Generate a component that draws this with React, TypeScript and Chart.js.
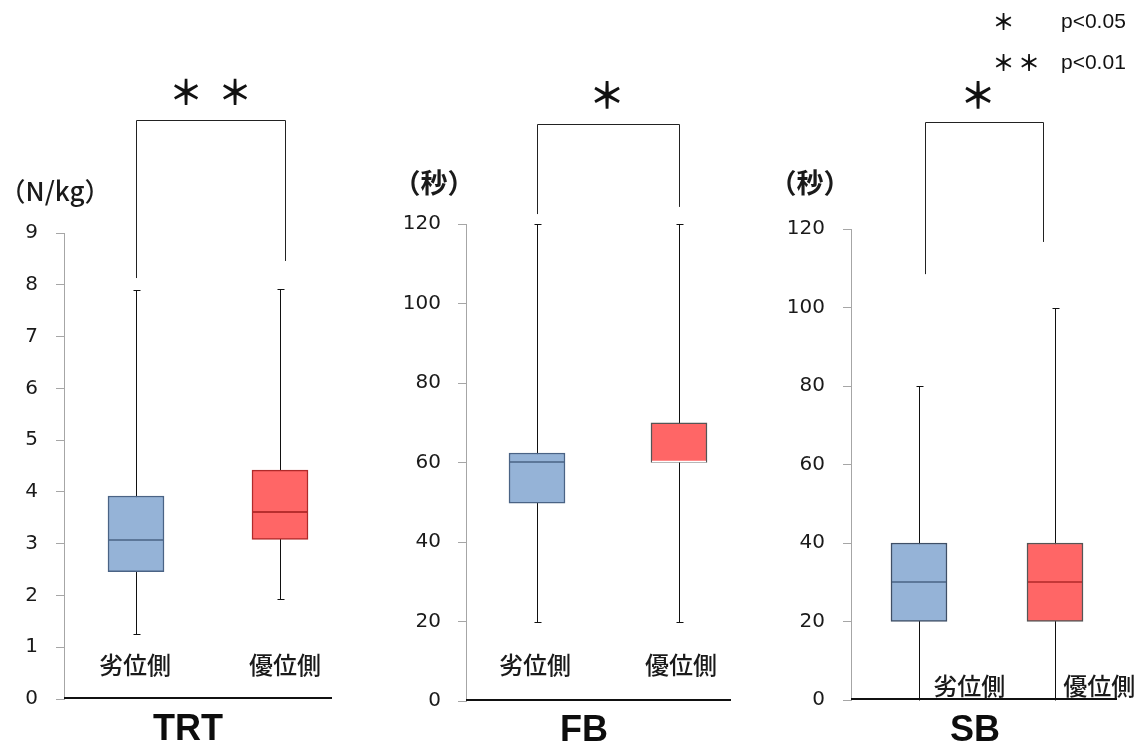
import React, { useEffect, useRef } from 'react';
import { Chart, registerables } from 'chart.js';

Chart.register(...registerables);

// ---------- data ----------
const categories = ['劣位側', '優位側'];

const trtMin = [1.26, 1.93];
const trtQ1 = [2.46, 3.08];
const trtMedian = [3.07, 3.61];
const trtQ3 = [3.92, 4.42];
const trtMax = [7.9, 7.92];

const fbMin = [20, 20];
const fbQ1 = [49.8, 60];
const fbMedian = [60.1, 60];
const fbQ3 = [62.4, 70];
const fbMax = [120, 120];

const sbMin = [0, 0];
const sbQ1 = [20, 20];
const sbMedian = [30, 30];
const sbQ3 = [40, 40];
const sbMax = [80, 100];

const trtTickStep = 1;
const trtAxisMax = 9;
const secTickStep = 20;
const secAxisMax = 120;

const trtStars = ['＊', '＊'];
const fbStars = ['＊'];
const sbStars = ['＊'];
const legendStars = ['＊', '＊＊'];
const legendTexts = ['p<0.05', 'p<0.01'];

// ---------- styles / layout ----------
const CJK = '"Noto Sans CJK JP", "Noto Sans CJK SC", sans-serif';
const BLUE_FILL = '#95b3d7';
const RED_FILL = '#ff6666';

type Panel = {
  key: string;
  title: string;
  unit: string;
  min: number[];
  q1: number[];
  median: number[];
  q3: number[];
  max: number[];
  axisMax: number;
  step: number;
  stars: string[];
  left: number;
  width: number;
  yWidth: number;
  padTop: number;
  padRight: number;
  xHeight: number;
  tickPad: number;
  axisEnd: number;
  titleX: number;
  titleY: number;
  unitX: number;
  unitY: number;
  unitFont: string;
  labelPos: number[];
  labelY: number;
  bracketPos: number[];
  bracketFeet: number[];
  bracketTop: number;
  starXs: number[];
  starY: number;
  starFont: string;
  borderColors: string[];
  medianColors: string[];
  legend?: boolean;
};

const panels: Panel[] = [
  {
    key: 'trt', title: 'TRT', unit: '（N/kg）',
    min: trtMin, q1: trtQ1, median: trtMedian, q3: trtQ3, max: trtMax,
    axisMax: trtAxisMax, step: trtTickStep, stars: trtStars,
    left: 0, width: 380, yWidth: 64, padTop: 233, padRight: 28, xHeight: 48, tickPad: 18,
    axisEnd: 332, titleX: 188, titleY: 740, unitX: 55, unitY: 191, unitFont: `500 26px ${CJK}`,
    labelPos: [-0.007, 1.035], labelY: 665,
    bracketPos: [0, 1.035], bracketFeet: [8.13, 8.46], bracketTop: 11.18,
    starXs: [186, 235], starY: 92, starFont: `bold 34px ${CJK}`,
    borderColors: ['#4a6385', '#b02a2a'], medianColors: ['#4a6385', '#a01c1c'],
  },
  {
    key: 'fb', title: 'FB', unit: '（秒）',
    min: fbMin, q1: fbQ1, median: fbMedian, q3: fbQ3, max: fbMax,
    axisMax: secAxisMax, step: secTickStep, stars: fbStars,
    left: 380, width: 380, yWidth: 86, padTop: 224, padRight: 10, xHeight: 46, tickPad: 17,
    axisEnd: 731, titleX: 584, titleY: 741, unitX: 434, unitY: 183, unitFont: `bold 27px ${CJK}`,
    labelPos: [-0.014, 1.014], labelY: 665,
    bracketPos: [0, 1.0], bracketFeet: [122.5, 124.3], bracketTop: 145.2,
    starXs: [607], starY: 95, starFont: `bold 36px ${CJK}`,
    borderColors: ['#4a6385', '#555555'], medianColors: ['#4a6385', '#ffffff'],
  },
  {
    key: 'sb', title: 'SB', unit: '（秒）',
    min: sbMin, q1: sbQ1, median: sbMedian, q3: sbQ3, max: sbMax,
    axisMax: secAxisMax, step: secTickStep, stars: sbStars,
    left: 760, width: 384, yWidth: 91, padTop: 229, padRight: 21, xHeight: 47, tickPad: 18,
    axisEnd: 1117, titleX: 975, titleY: 741, unitX: 810, unitY: 183, unitFont: `bold 27px ${CJK}`,
    labelPos: [0.37, 1.326], labelY: 686,
    bracketPos: [0.044, 0.91], bracketFeet: [108.5, 116.7], bracketTop: 147.3,
    starXs: [978], starY: 95, starFont: `bold 36px ${CJK}`,
    borderColors: ['#3f4f66', '#555555'], medianColors: ['#4a6385', '#b02a2a'],
    legend: true,
  },
];

function makePlugin(p: Panel) {
  return {
    id: 'boxplot-' + p.key,
    beforeDatasetsDraw(chart: any) {
      const { ctx, scales } = chart;
      const x = scales.x;
      const y = scales.y;
      ctx.save();
      ctx.strokeStyle = '#111';
      ctx.lineWidth = 1;
      p.min.forEach((mn, i) => {
        const cx = Math.round(x.getPixelForValue(i)) + 0.5;
        const top = Math.round(y.getPixelForValue(p.max[i])) + 0.5;
        const bot = Math.round(y.getPixelForValue(mn)) + 0.5;
        ctx.beginPath();
        ctx.moveTo(cx, top);
        ctx.lineTo(cx, bot);
        ctx.moveTo(cx - 3, top);
        ctx.lineTo(cx + 4, top);
        if (mn > 0) {
          ctx.moveTo(cx - 3, bot);
          ctx.lineTo(cx + 4, bot);
        }
        ctx.stroke();
      });
      ctx.restore();
    },
    afterDatasetsDraw(chart: any) {
      const { ctx, scales } = chart;
      const x = scales.x;
      const y = scales.y;
      const meta = chart.getDatasetMeta(0);
      ctx.save();
      ctx.lineWidth = 1.5;
      p.median.forEach((md, i) => {
        const bar = meta.data[i];
        const half = bar.width / 2;
        const cx = x.getPixelForValue(i);
        const py = Math.round(y.getPixelForValue(md)) + (md === p.q1[i] ? -1.5 : 0);
        ctx.strokeStyle = p.medianColors[i];
        ctx.beginPath();
        ctx.moveTo(cx - half + 1, py);
        ctx.lineTo(cx + half - 1, py);
        ctx.stroke();
      });
      ctx.restore();
    },
    afterDraw(chart: any) {
      const { ctx, scales, chartArea } = chart;
      const x = scales.x;
      const y = scales.y;
      const L = p.left;
      ctx.save();
      // x axis line
      ctx.strokeStyle = '#111';
      ctx.lineWidth = 2;
      ctx.beginPath();
      ctx.moveTo(chartArea.left, chartArea.bottom - 1);
      ctx.lineTo(p.axisEnd - L, chartArea.bottom - 1);
      ctx.stroke();

      // category labels
      ctx.fillStyle = '#1a1a1a';
      ctx.font = `500 24px ${CJK}`;
      ctx.textAlign = 'center';
      ctx.textBaseline = 'middle';
      categories.forEach((c, i) => {
        ctx.fillText(c, x.getPixelForValue(p.labelPos[i]), p.labelY);
      });

      // significance bracket
      const bx0 = Math.round(x.getPixelForValue(p.bracketPos[0])) + 0.5;
      const bx1 = Math.round(x.getPixelForValue(p.bracketPos[1])) + 0.5;
      const bt = Math.round(y.getPixelForValue(p.bracketTop)) + 0.5;
      ctx.strokeStyle = '#222';
      ctx.lineWidth = 1;
      ctx.beginPath();
      ctx.moveTo(bx0, y.getPixelForValue(p.bracketFeet[0]));
      ctx.lineTo(bx0, bt);
      ctx.lineTo(bx1, bt);
      ctx.lineTo(bx1, y.getPixelForValue(p.bracketFeet[1]));
      ctx.stroke();

      // stars
      ctx.fillStyle = '#111';
      ctx.font = p.starFont;
      p.stars.forEach((s, i) => {
        ctx.fillText(s, p.starXs[i] - L, p.starY);
      });

      // unit label
      ctx.font = p.unitFont;
      ctx.fillStyle = '#1a1a1a';
      ctx.fillText(p.unit, p.unitX - L, p.unitY);

      // panel title
      ctx.font = 'bold 36px "Liberation Sans", Arial, sans-serif';
      ctx.fillStyle = '#0d0d0d';
      ctx.textBaseline = 'alphabetic';
      ctx.fillText(p.title, p.titleX - L, p.titleY);

      // legend
      if (p.legend) {
        const rowsY = [22, 63];
        ctx.textBaseline = 'middle';
        legendStars.forEach((s, i) => {
          ctx.font = `bold 22px ${CJK}`;
          ctx.textAlign = 'center';
          ctx.fillStyle = '#111';
          const chars = Array.from(s);
          chars.forEach((ch, k) => ctx.fillText(ch, 1003.5 + k * 25.5 - L, rowsY[i]));
          ctx.font = '21px "Liberation Sans", Arial, sans-serif';
          ctx.textAlign = 'left';
          ctx.fillText(legendTexts[i], 1061 - L, rowsY[i]);
        });
      }
      ctx.restore();
    },
  };
}

function BoxPanel({ p }: { p: Panel }) {
  const ref = useRef<HTMLCanvasElement | null>(null);
  useEffect(() => {
    if (!ref.current) return;
    const chart = new Chart(ref.current, {
      type: 'bar',
      data: {
        labels: categories,
        datasets: [
          {
            data: p.q1.map((v, i) => [v, p.q3[i]]) as any,
            backgroundColor: [BLUE_FILL, RED_FILL],
            borderColor: p.borderColors,
            borderWidth: 1.5,
            borderSkipped: false,
            barThickness: 56,
          },
        ],
      },
      options: {
        responsive: false,
        animation: false,
        events: [],
        layout: { padding: { top: p.padTop, right: p.padRight, left: 0, bottom: 0 } },
        plugins: { legend: { display: false }, tooltip: { enabled: false } },
        scales: {
          x: {
            type: 'category',
            offset: true,
            grid: { display: false },
            border: { display: false },
            ticks: { display: false },
            afterFit: (s: any) => { s.height = p.xHeight; },
          },
          y: {
            min: 0,
            max: p.axisMax,
            ticks: {
              stepSize: p.step,
              padding: p.tickPad,
              color: '#1a1a1a',
              font: { family: '"DejaVu Sans", sans-serif', size: 20 },
            },
            grid: { drawOnChartArea: false, drawTicks: true, tickLength: 8, color: '#a6a6a6' },
            border: { display: true, color: '#a6a6a6', width: 1 },
            afterFit: (s: any) => { s.width = p.yWidth; },
          },
        },
      } as any,
      plugins: [makePlugin(p) as any],
    });
    return () => chart.destroy();
  }, [p]);
  return (
    <canvas
      ref={ref}
      width={p.width}
      height={747}
      style={{ position: 'absolute', left: p.left, top: 0, width: p.width, height: 747 }}
    />
  );
}

export default function App() {
  return (
    <div style={{ position: 'absolute', left: 0, top: 0, width: 1144, height: 747, background: '#fff', overflow: 'hidden' }}>
      {panels.map((p) => (
        <BoxPanel key={p.key} p={p} />
      ))}
    </div>
  );
}
